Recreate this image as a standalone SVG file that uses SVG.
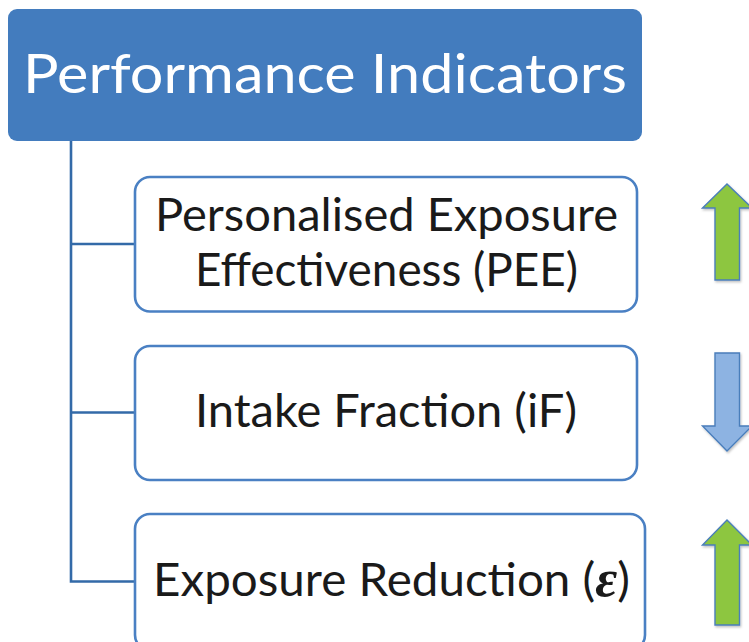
<svg xmlns="http://www.w3.org/2000/svg" width="749" height="642" viewBox="0 0 749 642">
  <defs>
    <style>
      .head { fill: #437CBE; }
      .head-text { font-family: Lato, "Open Sans", "Liberation Sans", sans-serif; font-size: 55px; fill: #ffffff; }
      .box { fill: #ffffff; stroke: #4A80C3; stroke-width: 2.6; }
      .label { font-family: Lato, "Open Sans", "Liberation Sans", sans-serif; font-size: 46px; fill: #1a1a1a; }
      .eps { font-family: "Liberation Serif", "DejaVu Serif", serif; font-weight: bold; font-style: italic; font-size: 52px; }
      .link { fill: none; stroke: #336AA8; stroke-width: 2.6; }
      .up { fill: #8DC63F; stroke: #4A7EBB; stroke-width: 1.4; }
      .down { fill: #8DB3E2; stroke: #4A7EBB; stroke-width: 1.4; }
    </style>
    <filter id="soft" x="-20%" y="-10%" width="140%" height="130%">
      <feDropShadow dx="1" dy="1.5" stdDeviation="1" flood-color="#000000" flood-opacity="0.25"/>
    </filter>
  </defs>

  <!-- tree connectors -->
  <g id="connectors">
    <path class="link" d="M71 141 V581.5 H135"/>
    <path class="link" d="M71 244 H135"/>
    <path class="link" d="M71 412.5 H135"/>
  </g>

  <!-- root node -->
  <g id="root">
    <rect class="head" x="8" y="9" width="634" height="132" rx="9"/>
    <text class="head-text" x="325" y="93" text-anchor="middle" textLength="604" lengthAdjust="spacingAndGlyphs">Performance Indicators</text>
  </g>

  <!-- indicator nodes -->
  <g id="pee">
    <rect class="box" x="135" y="177" width="502" height="134.5" rx="15"/>
    <text class="label" x="386.5" y="231" text-anchor="middle" textLength="463" lengthAdjust="spacingAndGlyphs">Personalised Exposure</text>
    <text class="label" x="386.5" y="286" text-anchor="middle" textLength="383" lengthAdjust="spacingAndGlyphs">Effectiveness (PEE)</text>
  </g>

  <g id="if">
    <rect class="box" x="135" y="346" width="502" height="134" rx="15"/>
    <text class="label" x="386" y="427" text-anchor="middle" textLength="382" lengthAdjust="spacingAndGlyphs">Intake Fraction (iF)</text>
  </g>

  <g id="epsilon">
    <rect class="box" x="135" y="514" width="510" height="136" rx="15"/>
    <text class="label" x="391.5" y="596" text-anchor="middle" textLength="477" lengthAdjust="spacingAndGlyphs">Exposure Reduction (<tspan class="eps">ε</tspan>)</text>
  </g>

  <!-- trend arrows -->
  <g id="arrow-pee" filter="url(#soft)">
    <polygon class="up" points="727,184 752,208 739.5,208 739.5,280 715,280 715,208 702.5,208"/>
  </g>
  <g id="arrow-if" filter="url(#soft)">
    <polygon class="down" points="715,353 739.5,353 739.5,426 752,426 727,451 702.5,426 715,426"/>
  </g>
  <g id="arrow-epsilon" filter="url(#soft)">
    <polygon class="up" points="727,520 752,545 739.5,545 739.5,625 715,625 715,545 702.5,545"/>
  </g>
</svg>
